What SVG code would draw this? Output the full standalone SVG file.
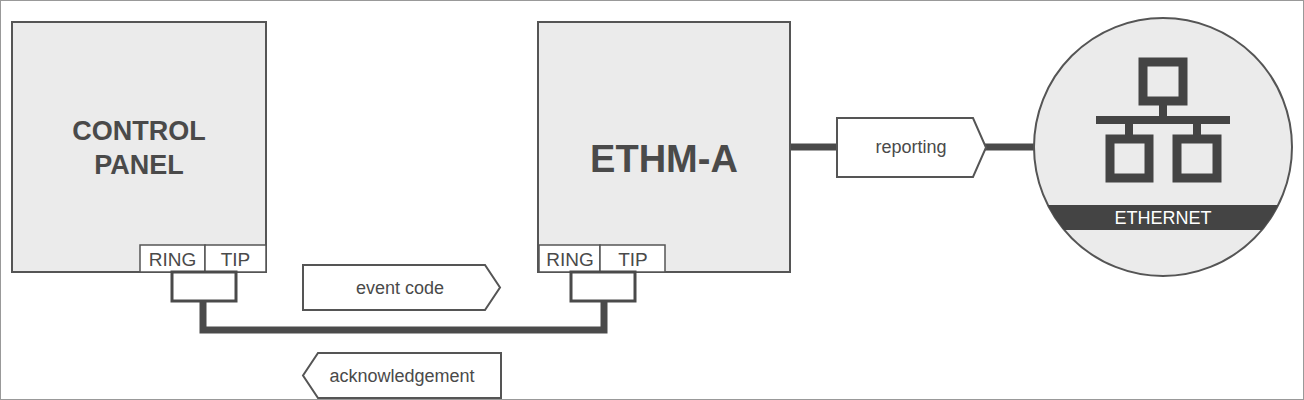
<svg xmlns="http://www.w3.org/2000/svg" width="1304" height="400" viewBox="0 0 1304 400">
<style>
.box{fill:#ebebeb;stroke:#555;stroke-width:2}
.port{fill:#fff;stroke:#555;stroke-width:1.5}
.lbl{fill:#fff;stroke:#555;stroke-width:2}
.t{font-family:"Liberation Sans",Arial,sans-serif;fill:#4a4a4a}
.wire{fill:none;stroke:#4a4a4a;stroke-width:7}
.ic{fill:none;stroke:#444;stroke-width:9}
.br{fill:none;stroke:#4a4a4a;stroke-width:3}
</style>
<defs><clipPath id="cc"><circle cx="1163" cy="147" r="129"/></clipPath></defs>
<rect x="0.5" y="0.5" width="1303" height="399" fill="#fff" stroke="#999" stroke-width="1"/>
<g id="connectors">
<path class="wire" d="M203,301 V330 H604 V301"/>
<path class="wire" d="M790,147 H837 M985,147 H1034"/>
</g>
<g id="control-panel">
<rect class="box" x="12" y="22" width="254" height="250"/>
<text class="t" x="139" y="140" font-size="27" font-weight="bold" text-anchor="middle">CONTROL</text>
<text class="t" x="139" y="174" font-size="27" font-weight="bold" text-anchor="middle">PANEL</text>
<rect class="port" x="140" y="245" width="65" height="27"/>
<rect class="port" x="205" y="245" width="61" height="27"/>
<text class="t" x="172.5" y="266" font-size="19" text-anchor="middle">RING</text>
<text class="t" x="235.5" y="266" font-size="19" text-anchor="middle">TIP</text>
<rect class="br" x="172" y="272" width="64" height="29"/>
</g>
<g id="ethm-a">
<rect class="box" x="538" y="22" width="252" height="250"/>
<text class="t" x="664" y="172" font-size="38" font-weight="bold" text-anchor="middle">ETHM-A</text>
<rect class="port" x="539" y="245" width="61" height="27"/>
<rect class="port" x="600" y="245" width="65" height="27"/>
<text class="t" x="570" y="266" font-size="19" text-anchor="middle">RING</text>
<text class="t" x="633" y="266" font-size="19" text-anchor="middle">TIP</text>
<rect class="br" x="571" y="272" width="64" height="29"/>
</g>
<g id="event-code">
<path class="lbl" d="M303,265 H485 L500,287.5 L485,310 H303 Z"/>
<text class="t" x="400" y="294" font-size="18" text-anchor="middle">event code</text>
</g>
<g id="acknowledgement">
<path class="lbl" d="M501,353 V398 H318 L303,375.5 L318,353 Z"/>
<text class="t" x="402" y="382" font-size="18" text-anchor="middle">acknowledgement</text>
</g>
<g id="reporting">
<path class="lbl" d="M837,118 H973 L986,147.5 L973,177 H837 Z"/>
<text class="t" x="911" y="153" font-size="18" text-anchor="middle">reporting</text>
</g>
<g id="ethernet">
<circle cx="1163" cy="147" r="129" fill="#ebebeb" stroke="#555" stroke-width="2"/>
<rect x="1030" y="205" width="270" height="25" fill="#444" clip-path="url(#cc)"/>
<text x="1163" y="224" font-size="18" text-anchor="middle" font-family="Liberation Sans,Arial,sans-serif" fill="#fff">ETHERNET</text>
<rect class="ic" x="1143" y="62" width="40" height="39"/>
<rect class="ic" x="1110" y="139" width="39" height="39"/>
<rect class="ic" x="1177" y="139" width="40" height="39"/>
<path d="M1163,101 V120 M1096,120 H1230 M1129,120 V139 M1197,120 V139" stroke="#444" stroke-width="8" fill="none"/>
</g>
</svg>
